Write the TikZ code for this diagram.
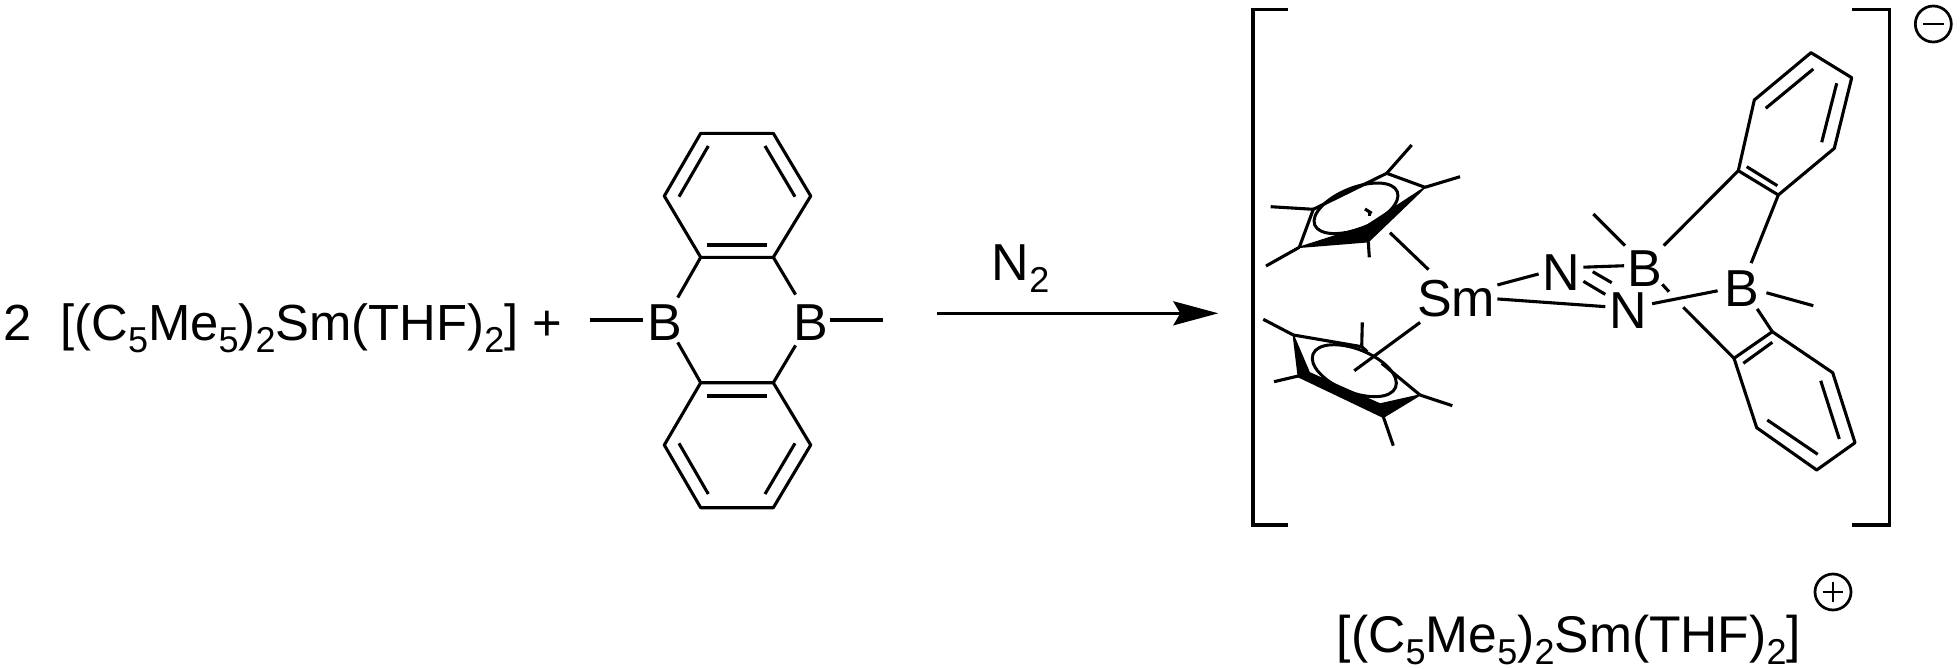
\documentclass[tikz,border=0pt]{standalone}
\usepackage{fontspec}
\setmainfont{Liberation Sans}
\usetikzlibrary{arrows.meta,shapes.geometric}
\newcommand\sbs[1]{\raisebox{-6pt}{\fontsize{18pt}{20pt}\selectfont #1}}
\newcommand\atomtxt[2]{\smash{\raisebox{-#2pt}{\makebox[0pt]{#1}}}}
\newcommand\samform{[(C\sbs{5}Me\sbs{5})\sbs{2}Sm(THF)\sbs{2}]}
\tikzset{
  bond/.style={line width=1.55pt,line join=round},
  brk/.style={line width=1.7pt,line join=miter},
  atom/.style 2 args={rectangle,inner sep=0pt,minimum width=#1pt,minimum height=#2pt},
  txt/.style={inner sep=0pt,anchor=base west},
  cpring/.style={ellipse,draw,line width=1.5pt,inner sep=0pt},
  charge/.style={circle,draw,line width=1.35pt,inner sep=0pt,minimum size=18pt},
  mark line/.style={line width=1.2pt},
}
\begin{document}
\begin{tikzpicture}[x=0.5pt,y=-0.5pt,font=\fontsize{26pt}{30pt}\selectfont]
\useasboundingbox (0,0) rectangle (1960,669);
% reactant text
\node[txt,font=\fontsize{25.4pt}{30pt}\selectfont] (reag) at (3.5,340) {2\ \ \samform\ +};
% diborin atoms
\node[atom={22}{22}] (B1) at (665,320) {\atomtxt{B}{10}};
\node[atom={19.3}{25}] (B2) at (810.7,320) {\atomtxt{B}{10}};
\coordinate (Me1) at (590,320); \coordinate (Me2) at (883,320);
\coordinate (u1) at (700.7,257.3); \coordinate (u2) at (773.3,257.3);
\coordinate (u3) at (810.7,196); \coordinate (u4) at (773.3,133.3);
\coordinate (u5) at (700.7,133.3); \coordinate (u6) at (664.3,196);
\coordinate (d1) at (700.7,382.7); \coordinate (d2) at (773.3,382.7);
\coordinate (d3) at (810.7,445); \coordinate (d4) at (773.3,507.7);
\coordinate (d5) at (700.7,507.7); \coordinate (d6) at (664.3,445);
\draw[bond] (u1)--(u2)--(u3)--(u4)--(u5)--(u6)--cycle;
\draw[bond] (d1)--(d2)--(d3)--(d4)--(d5)--(d6)--cycle;
\draw[bond] (Me1)--(B1); \draw[bond] (B2)--(Me2);
\draw[bond] (B1)--(u1); \draw[bond] (B1)--(d1);
\draw[bond] (B2)--(u2); \draw[bond] (B2)--(d2);
\coordinate (ui1) at (707.3,245); \coordinate (ui2) at (766.7,245);
\coordinate (ui3) at (795,196.7); \coordinate (ui4) at (765,146);
\coordinate (ui5) at (708.3,146); \coordinate (ui6) at (679,196.7);
\coordinate (di1) at (706.7,396); \coordinate (di2) at (766.7,396);
\coordinate (di3) at (795,443.3); \coordinate (di4) at (765,494);
\coordinate (di5) at (708.3,494); \coordinate (di6) at (679,443.3);
\draw[bond] (ui1)--(ui2); \draw[bond] (ui3)--(ui4); \draw[bond] (ui5)--(ui6);
\draw[bond] (di1)--(di2); \draw[bond] (di3)--(di4); \draw[bond] (di5)--(di6);
% arrow
\node[txt] (ntwo) at (991.5,280.7) {N\sbs{2}};
\coordinate (arA) at (937,313.3); \coordinate (arB) at (1218.3,313.3);
\draw[bond,-{Stealth[length=22.5pt,width=12pt,inset=3.5pt]}] (arA)--(arB);
% brackets
\coordinate (bl1) at (1288,9.3); \coordinate (bl2) at (1253,9.3);
\coordinate (bl3) at (1253,525); \coordinate (bl4) at (1288,525);
\coordinate (br1) at (1851.5,9.3); \coordinate (br2) at (1889.3,9.3);
\coordinate (br3) at (1889.3,525); \coordinate (br4) at (1851.5,525);
\draw[brk] (bl1)--(bl2)--(bl3)--(bl4);
\draw[brk] (br1)--(br2)--(br3)--(br4);
% charges
\node[charge] (minus) at (1933.3,24) {};
\draw[mark line] ([xshift=4.5pt]minus.west)--([xshift=-4.5pt]minus.east);
\node[charge] (plus) at (1833,592) {};
\draw[mark line] ([xshift=4.5pt]plus.west)--([xshift=-4.5pt]plus.east);
\draw[mark line] ([yshift=-4.5pt]plus.north)--([yshift=4.5pt]plus.south);
\node[txt,font=\fontsize{25.8pt}{30pt}\selectfont] (cation) at (1336.5,652) {\samform};
% product atoms
\node[atom={41}{26}] (Sm) at (1456,296) {\atomtxt{Sm}{10.35}};
\node[atom={22}{20}] (N1) at (1561,268) {\atomtxt{N}{11}};
\node[atom={23}{20}] (N2) at (1628.7,308.3) {\atomtxt{N}{10}};
\node[atom={20}{19}] (B3) at (1644.5,265) {\atomtxt{B}{10.85}};
\node[atom={24}{22.5}] (B4) at (1742,286) {\atomtxt{B}{10.35}};
\draw[bond] (Sm)--(N1); \draw[bond] (Sm)--(N2);
\draw[bond] (N1)--(B3); \draw[bond] (N1)--(N2);
\coordinate (nn1) at (1592.7,271.7); \coordinate (nn2) at (1611.7,282.7);
\draw[bond] (nn1)--(nn2);
\draw[bond] (N2)--(B4);
% upper benzo ring
\coordinate (ra) at (1738.3,170.7); \coordinate (rb) at (1778.3,195);
\coordinate (rc) at (1834.3,148.3); \coordinate (rd) at (1851.7,77.7);
\coordinate (re) at (1811,52.7); \coordinate (rf) at (1754.3,100);
\draw[bond] (ra)--(rb)--(rc)--(rd)--(re)--(rf)--cycle;
\coordinate (ri1) at (1746.7,166.7); \coordinate (ri2) at (1777.3,185.7);
\coordinate (ri3) at (1821.7,142.3); \coordinate (ri4) at (1836.7,83.3);
\coordinate (ri5) at (1813.3,69); \coordinate (ri6) at (1765.7,108.3);
\draw[bond] (ri1)--(ri2); \draw[bond] (ri3)--(ri4); \draw[bond] (ri5)--(ri6);
% lower benzo ring
\coordinate (sa) at (1734,358.3); \coordinate (sb) at (1772.3,331.7);
\coordinate (sc) at (1832.7,372.7); \coordinate (sd) at (1855,442.7);
\coordinate (se) at (1816.7,470); \coordinate (sf) at (1756.7,427.7);
\draw[bond] (sa)--(sb)--(sc)--(sd)--(se)--(sf)--cycle;
\coordinate (si1) at (1743.3,363.3); \coordinate (si2) at (1772.3,342.3);
\coordinate (si3) at (1820.7,380.7); \coordinate (si4) at (1839.3,439);
\coordinate (si5) at (1817.7,454.3); \coordinate (si6) at (1767.3,420);
\draw[bond] (si1)--(si2); \draw[bond] (si3)--(si4); \draw[bond] (si5)--(si6);
% boron bonds
\draw[bond] (B3)--(ra); \draw[bond] (B4)--(rb); \draw[bond] (B4)--(sb);
\coordinate (gapA) at (1669,291.7); \coordinate (gapB) at (1683.3,307.3);
\draw[bond] (B3)--(gapA); \draw[bond] (gapB)--(sa);
\coordinate (MeB3) at (1593.3,214); \coordinate (MeB4) at (1813.3,305.7);
\draw[bond] (MeB3)--(B3); \draw[bond] (B4)--(MeB4);
% upper Cp ring
\coordinate (tA) at (1313.3,209.3); \coordinate (tB) at (1386.7,173.3);
\coordinate (tC) at (1425,187.3); \coordinate (tD) at (1368.3,241.7);
\coordinate (tE) at (1299.3,247.3); \coordinate (tI) at (1366,226);
\draw[bond] (tE)--(tA)--(tB)--(tC);
\fill[line join=round,draw,line width=0.7pt] (tC)--(tD)--(tE)--(tI)--cycle;
\node[cpring,rotate=22,minimum width=44.5pt,minimum height=20.5pt] (e1) at (1356,208.3) {};
\coordinate (tMB) at (1411.7,145); \coordinate (tMC) at (1460,176.7);
\coordinate (tMD) at (1369.3,257.3); \coordinate (tMA) at (1270.7,206.7);
\coordinate (tME) at (1266,266);
\draw[bond] (tB)--(tMB); \draw[bond] (tC)--(tMC); \draw[bond] (tD)--(tMD);
\draw[bond] (tA)--(tMA); \draw[bond] (tE)--(tME);
\coordinate (tk1) at (1365,209); \coordinate (tk2) at (1371.7,213.3);
\coordinate (tk3) at (1369.3,210.5); \coordinate (tk4) at (1369.3,216);
\draw[bond] (tk1)--(tk2); \draw[bond] (tk3)--(tk4);
\coordinate (CpT) at (1390,232.7);
\draw[bond] (CpT)--(Sm);
% lower Cp ring
\coordinate (bA) at (1293.3,335); \coordinate (bB) at (1361.7,346.7);
\coordinate (bBx) at (1367.3,351.7); \coordinate (bC) at (1420,395);
\coordinate (bCx) at (1381.7,363.3); \coordinate (bD) at (1383.3,416.7);
\coordinate (bE) at (1298.3,376);
\draw[bond] (bA)--(bB)--(bBx); \draw[bond] (bCx)--(bC);
\coordinate (bP1) at (1309.3,372.7); \coordinate (bP2) at (1380,404);
\coordinate (bP3) at (1298.3,376.7); \coordinate (bP4) at (1383.3,417.3);
\fill[line join=round,draw,line width=0.7pt] (bA)--(bP1)--(bP2)--(bC)--(bP4)--(bP3)--cycle;
\node[cpring,rotate=-22,minimum width=44.5pt,minimum height=21.5pt] (e2) at (1354.3,370.7) {};
\coordinate (bMA) at (1263.3,319.3); \coordinate (bMB) at (1362.3,322.3);
\coordinate (bMC) at (1452.3,405.7); \coordinate (bMD) at (1393.3,445.7);
\coordinate (bME) at (1274,381.7);
\draw[bond] (bA)--(bMA); \draw[bond] (bB)--(bMB); \draw[bond] (bC)--(bMC);
\draw[bond] (bD)--(bMD); \draw[bond] (bE)--(bME);
\draw[bond] (Sm)--(e2.center);
\end{tikzpicture}
\end{document}
